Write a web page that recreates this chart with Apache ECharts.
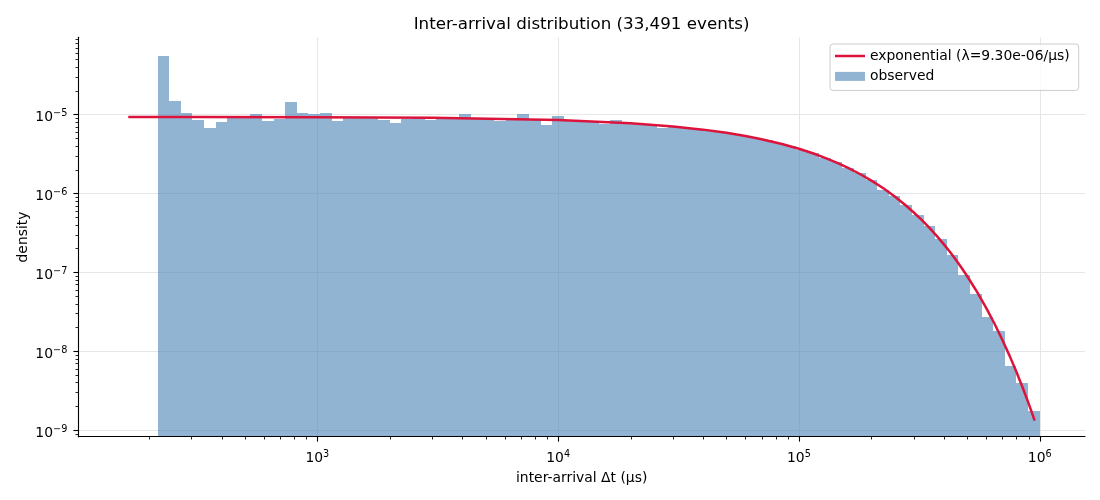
<!DOCTYPE html>
<html>
<head>
<meta charset="utf-8">
<script src="https://cdn.jsdelivr.net/npm/echarts@6/dist/echarts.min.js"></script>
<style>html,body{margin:0;padding:0;background:#fff}#c{width:1100px;height:500px}</style>
</head>
<body>
<div id="c"></div>
<script>
// ---------------- data ----------------
const titleText = 'Inter-arrival distribution (33,491 events)';
const xAxisName = 'inter-arrival \u0394t (\u00b5s)';
const yAxisName = 'density';
const fitName = 'exponential (\u03bb=9.30e-06/\u00b5s)';
const histName = 'observed';

// histogram bin edges (µs), log-spaced
const binEdges = [216.9, 242.4, 270.8, 302.6, 338.1, 377.8, 422.2, 471.7, 527.1, 589.0,
  658.1, 735.4, 821.7, 918.2, 1026, 1146, 1281, 1431, 1599, 1787,
  1997, 2232, 2494, 2787, 3114, 3479, 3888, 4344, 4854, 5424,
  6061, 6772, 7567, 8456, 9448, 10557, 11797, 13182, 14729, 16458,
  18390, 20549, 22961, 25656, 28668, 32033, 35793, 39995, 44690, 49936,
  55798, 62348, 69667, 77845, 86983, 97194, 108603, 121352, 135597, 151514,
  169300, 189174, 211380, 236193, 263919, 294899, 329516, 368197, 411418, 459713,
  513677, 573976, 641353, 716641, 800765, 894764, 1000000];

// observed density per bin
const observedDensity = [5.50e-5, 1.48e-5, 1.04e-5, 8.5e-6, 6.7e-6, 8.0e-6, 9.1e-6, 9.2e-6, 1.01e-5, 8.25e-6,
  8.7e-6, 1.44e-5, 1.04e-5, 1.01e-5, 1.04e-5, 8.25e-6, 8.9e-6, 9.0e-6, 8.9e-6, 8.5e-6,
  7.8e-6, 8.8e-6, 8.9e-6, 8.5e-6, 8.8e-6, 8.8e-6, 1.01e-5, 8.7e-6, 8.8e-6, 8.25e-6,
  8.7e-6, 1.01e-5, 8.6e-6, 7.34e-6, 9.55e-6, 8.4e-6, 8.3e-6, 8.15e-6, 7.6e-6, 8.5e-6,
  7.75e-6, 7.6e-6, 7.4e-6, 6.8e-6, 7.0e-6, 6.8e-6, 6.5e-6, 6.25e-6, 5.95e-6, 5.7e-6,
  5.35e-6, 5.0e-6, 4.7e-6, 4.3e-6, 3.95e-6, 3.58e-6, 3.2e-6, 2.82e-6, 2.47e-6, 2.11e-6,
  1.80e-6, 1.49e-6, 1.10e-6, 9.2e-7, 7.1e-7, 5.3e-7, 3.85e-7, 2.66e-7, 1.65e-7, 9.25e-8,
  5.25e-8, 2.73e-8, 1.80e-8, 6.5e-9, 3.94e-9, 1.74e-9];

// fitted exponential curve
const fitT = [164, 300, 1000, 3000, 10000, 20000, 30000, 40000, 50000, 60000, 70000, 85000,
  100000, 115000, 130000, 145000, 160000, 180000, 200000, 225000, 250000, 275000, 300000,
  325000, 350000, 375000, 400000, 425000, 450000, 475000, 500000, 550000, 600000, 650000,
  700000, 750000, 800000, 850000, 900000, 953000];
const fitDensity = [9.286e-6, 9.274e-6, 9.214e-6, 9.044e-6, 8.474e-6, 7.722e-6, 7.036e-6, 6.411e-6,
  5.842e-6, 5.323e-6, 4.850e-6, 4.219e-6, 3.669e-6, 3.192e-6, 2.776e-6, 2.414e-6, 2.100e-6,
  1.744e-6, 1.448e-6, 1.148e-6, 9.094e-7, 7.208e-7, 5.712e-7, 4.527e-7, 3.588e-7, 2.844e-7,
  2.254e-7, 1.787e-7, 1.416e-7, 1.122e-7, 8.893e-8, 5.585e-8, 3.509e-8, 2.203e-8, 1.385e-8,
  8.698e-9, 5.461e-9, 3.436e-9, 2.155e-9, 1.317e-9];

// axis ranges and ticks
const xRange = [101.7, 1.542e6];
const yRange = [8.22e-10, 9.49e-5];
const xMajorTicks = [1e3, 1e4, 1e5, 1e6];
const xMinorTicks = [200, 300, 400, 500, 600, 700, 800, 900,
  2000, 3000, 4000, 5000, 6000, 7000, 8000, 9000,
  20000, 30000, 40000, 50000, 60000, 70000, 80000, 90000,
  200000, 300000, 400000, 500000, 600000, 700000, 800000, 900000];
const yMajorTicks = [1e-9, 1e-8, 1e-7, 1e-6, 1e-5];
const yMinorTicks = [9e-10,
  2e-9, 3e-9, 4e-9, 5e-9, 6e-9, 7e-9, 8e-9, 9e-9,
  2e-8, 3e-8, 4e-8, 5e-8, 6e-8, 7e-8, 8e-8, 9e-8,
  2e-7, 3e-7, 4e-7, 5e-7, 6e-7, 7e-7, 8e-7, 9e-7,
  2e-6, 3e-6, 4e-6, 5e-6, 6e-6, 7e-6, 8e-6, 9e-6,
  2e-5, 3e-5, 4e-5, 5e-5, 6e-5, 7e-5, 8e-5, 9e-5];

// ---------------- chart ----------------
const FONT = 'DejaVu Sans';
const BAR_COLOR = 'rgba(70,130,180,0.6)';
const LINE_COLOR = '#dc143c';

const histData = observedDensity.map((d, i) => [binEdges[i], binEdges[i + 1], d]);
const fitData = fitT.map((t, i) => [t, fitDensity[i]]);

function powLabel(v) {
  const e = Math.log10(v);
  const r = Math.round(e);
  if (Math.abs(e - r) > 1e-6) return '';
  const s = r < 0 ? '\u2212' + (-r) : String(r);
  return '{b|10}{s|' + s + '}';
}
const rich = {
  b: {fontFamily: FONT, fontSize: 13.9, color: '#000', lineHeight: 16, verticalAlign: 'bottom'},
  s: {fontFamily: FONT, fontSize: 9.7, color: '#000', lineHeight: 10, verticalAlign: 'top'}
};

const chart = echarts.init(document.getElementById('c'), null, {renderer: 'canvas'});

const option = {
  animation: false,
  backgroundColor: '#fff',
  graphic: [{
    type: 'text', x: 581.6, y: 24.5, silent: true,
    style: {text: titleText, font: '16.7px "DejaVu Sans"', fill: '#000',
      align: 'center', verticalAlign: 'middle', textAlign: 'center', textVerticalAlign: 'middle'}
  }],
  grid: {left: 78.3, right: 15, top: 37.3, bottom: 63.3, containLabel: false},
  legend: {
    orient: 'vertical', right: 21.3, top: 44,
    padding: [4, 9, 6, 5], itemGap: 4.4, itemWidth: 30, itemHeight: 9,
    itemTextGap: 10, symbolKeepAspect: true,
    backgroundColor: 'rgba(255,255,255,0.8)', borderColor: '#cccccc', borderWidth: 1, borderRadius: 3,
    textStyle: {fontFamily: FONT, fontSize: 13.9, color: '#000', lineHeight: 16},
    data: [
      {name: fitName, icon: 'path://M0,0 L30,0 L30,2.5 L0,2.5 Z',
        itemStyle: {color: LINE_COLOR, borderWidth: 0}},
      {name: histName, icon: 'rect', itemStyle: {color: BAR_COLOR, borderWidth: 0}}
    ],
    selectedMode: false
  },
  xAxis: {
    type: 'log', logBase: 10, min: xRange[0], max: xRange[1], z: 10,
    axisLine: {show: true, onZero: false, lineStyle: {color: '#000', width: 1.1}},
    axisTick: {show: false}, minorTick: {show: false}, splitLine: {show: false},
    axisLabel: {margin: 13, formatter: powLabel, rich: rich},
    name: xAxisName, nameLocation: 'middle', nameGap: 35,
    nameTextStyle: {fontFamily: FONT, fontSize: 13.9, color: '#000'}
  },
  yAxis: {
    type: 'log', logBase: 10, min: yRange[0], max: yRange[1], z: 10,
    axisLine: {show: true, onZero: false, lineStyle: {color: '#000', width: 1.1}},
    axisTick: {show: false}, minorTick: {show: false}, splitLine: {show: false},
    axisLabel: {margin: 11, formatter: powLabel, rich: rich, padding: [4, 0, 0, 0]},
    name: yAxisName, nameLocation: 'middle', nameGap: 48, nameMoveOverlap: false,
    nameTextStyle: {fontFamily: FONT, fontSize: 13.9, color: '#000'}
  },
  series: [
    { // grid lines
      type: 'custom', name: 'gridX', silent: true, z: 1,
      data: xMajorTicks.map(v => [v, yRange[0]]),
      encode: {x: 0, y: 1},
      renderItem: function (params, api) {
        const a = api.coord([api.value(0), yRange[0]]);
        const b = api.coord([api.value(0), yRange[1]]);
        const x = Math.round(a[0]) + 0.5;
        return {type: 'line', shape: {x1: x, y1: a[1], x2: x, y2: b[1]},
          style: {stroke: '#e6e6e6', lineWidth: 1}};
      }
    },
    {
      type: 'custom', name: 'gridY', silent: true, z: 1,
      data: yMajorTicks.map(v => [xRange[0], v]),
      encode: {x: 0, y: 1},
      renderItem: function (params, api) {
        const a = api.coord([xRange[0], api.value(1)]);
        const b = api.coord([xRange[1], api.value(1)]);
        const y = Math.round(a[1]) + 0.5;
        return {type: 'line', shape: {x1: a[0], y1: y, x2: b[0], y2: y},
          style: {stroke: '#e6e6e6', lineWidth: 1}};
      }
    },
    { // histogram
      type: 'custom', name: histName, z: 2,
      itemStyle: {color: BAR_COLOR},
      data: histData,
      encode: {x: [0, 1], y: 2},
      renderItem: function (params, api) {
        const p0 = api.coord([api.value(0), api.value(2)]);
        const p1 = api.coord([api.value(1), yRange[0]]);
        const x0 = Math.round(p0[0]), x1 = Math.round(p1[0]);
        const y0 = Math.round(p0[1]), y1 = p1[1];
        return {type: 'rect', shape: {x: x0, y: y0, width: x1 - x0, height: y1 - y0},
          style: {fill: BAR_COLOR}};
      }
    },
    { // fitted curve
      type: 'line', name: fitName, z: 3,
      data: fitData, symbol: 'none', smooth: false,
      lineStyle: {color: LINE_COLOR, width: 2.5},
      itemStyle: {color: LINE_COLOR},
      emphasis: {disabled: true}
    },
    { // x ticks
      type: 'custom', name: 'ticksX', silent: true, z: 11,
      data: xMajorTicks.map(v => [v, yRange[0], 1]).concat(xMinorTicks.map(v => [v, yRange[0], 0])),
      encode: {x: 0, y: 1},
      renderItem: function (params, api) {
        const major = api.value(2) === 1;
        const p = api.coord([api.value(0), yRange[0]]);
        const x = Math.round(p[0]) + 0.5;
        return {type: 'line', shape: {x1: x, y1: p[1], x2: x, y2: p[1] + (major ? 4.9 : 2.8)},
          style: {stroke: '#000', lineWidth: major ? 1.1 : 0.85}};
      }
    },
    { // y ticks
      type: 'custom', name: 'ticksY', silent: true, z: 11,
      data: yMajorTicks.map(v => [xRange[0], v, 1]).concat(yMinorTicks.map(v => [xRange[0], v, 0])),
      encode: {x: 0, y: 1},
      renderItem: function (params, api) {
        const major = api.value(2) === 1;
        const p = api.coord([xRange[0], api.value(1)]);
        const y = Math.round(p[1]) + 0.5;
        return {type: 'line', shape: {x1: p[0] - (major ? 4.9 : 2.8), y1: y, x2: p[0], y2: y},
          style: {stroke: '#000', lineWidth: major ? 1.1 : 0.85}};
      }
    }
  ]
};
chart.setOption(option);
</script>
</body>
</html>
